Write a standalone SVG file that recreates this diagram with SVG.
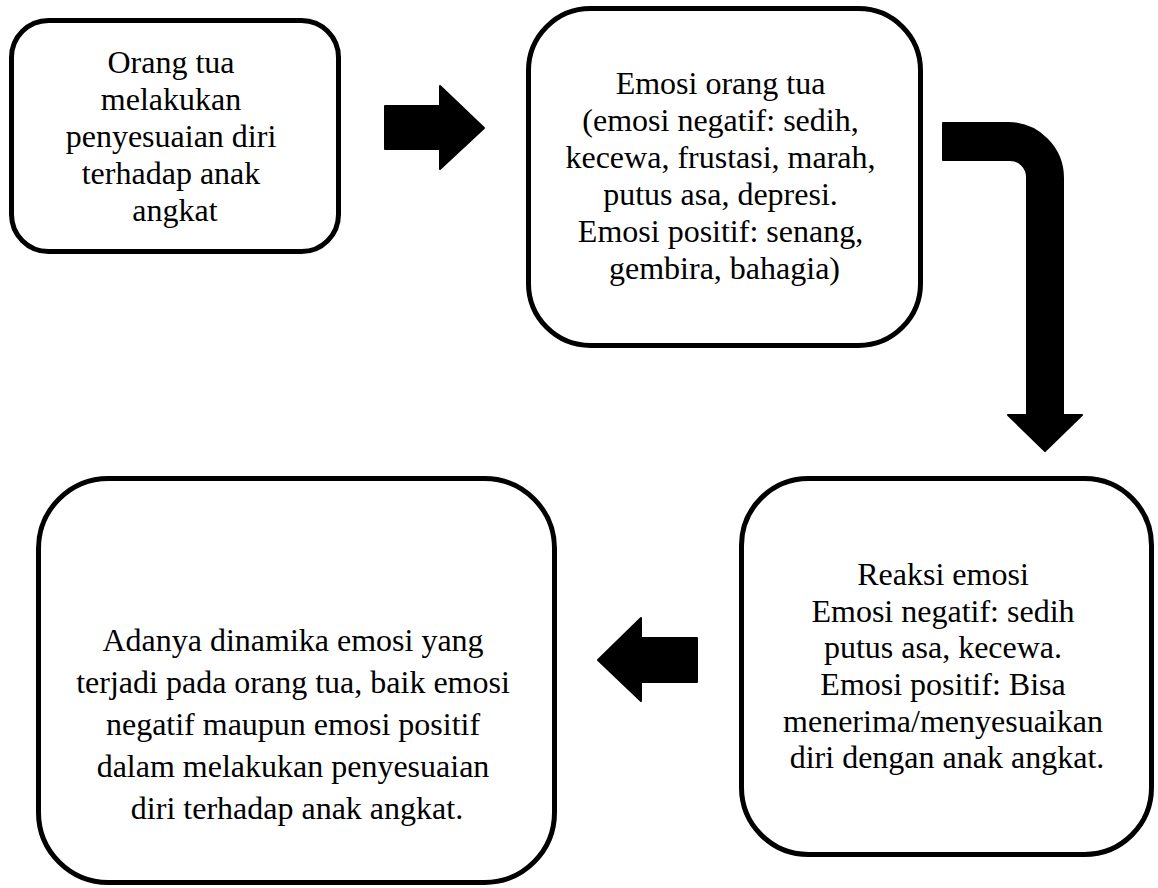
<svg xmlns="http://www.w3.org/2000/svg" width="1158" height="888" viewBox="0 0 1158 888">
  <style>
    .box { fill: #ffffff; stroke: #000000; stroke-width: 5; }
    .arrow { fill: #000000; stroke: #000000; stroke-width: 2; stroke-linejoin: round; }
    .label { font-family: "Liberation Serif", "Times New Roman", serif; font-size: 32px; fill: #000000; text-anchor: middle; }
  </style>
  <rect x="0" y="0" width="1158" height="888" fill="#ffffff"/>
  <g id="node-1">
    <rect class="box" x="11.5" y="20.5" width="327" height="231" rx="37" ry="37"/>
    <text class="label">
      <tspan x="175" y="73">Orang tua</tspan>
      <tspan x="175" y="110">melakukan</tspan>
      <tspan x="175" y="147">penyesuaian diri</tspan>
      <tspan x="175" y="184">terhadap anak</tspan>
      <tspan x="175" y="221">angkat</tspan>
    </text>
  </g>
  <g id="node-2">
    <rect class="box" x="528.5" y="8.5" width="392" height="337" rx="62" ry="62"/>
    <text class="label">
      <tspan x="724.5" y="94">Emosi orang tua</tspan>
      <tspan x="724.5" y="131">(emosi negatif: sedih,</tspan>
      <tspan x="724.5" y="168">kecewa, frustasi, marah,</tspan>
      <tspan x="724.5" y="205">putus asa, depresi.</tspan>
      <tspan x="724.5" y="242">Emosi positif: senang,</tspan>
      <tspan x="724.5" y="279">gembira, bahagia)</tspan>
    </text>
  </g>
  <g id="node-3">
    <rect class="box" x="741.5" y="478.5" width="410" height="376" rx="67" ry="67"/>
    <text class="label">
      <tspan x="947" y="585">Reaksi emosi</tspan>
      <tspan x="947" y="622">Emosi negatif: sedih</tspan>
      <tspan x="947" y="658">putus asa, kecewa.</tspan>
      <tspan x="947" y="695">Emosi positif: Bisa</tspan>
      <tspan x="947" y="732">menerima/menyesuaikan</tspan>
      <tspan x="947" y="768">diri dengan anak angkat.</tspan>
    </text>
  </g>
  <g id="node-4">
    <rect class="box" x="38.5" y="478.5" width="516" height="404" rx="70" ry="70"/>
    <text class="label">
      <tspan x="297" y="651">Adanya dinamika emosi yang</tspan>
      <tspan x="297" y="693">terjadi pada orang tua, baik emosi</tspan>
      <tspan x="297" y="735">negatif maupun emosi positif</tspan>
      <tspan x="297" y="777">dalam melakukan penyesuaian</tspan>
      <tspan x="297" y="819">diri terhadap anak angkat.</tspan>
    </text>
  </g>
  <g id="connectors">
    <path class="arrow" d="M 385 106 L 440 106 L 440 86 L 484 128 L 440 169 L 440 149 L 385 149 Z"/>
    <path class="arrow" d="M 943 123 L 1008 123 A 55 55 0 0 1 1063 178 L 1063 415 L 1082 415 L 1045 451 L 1008 415 L 1027 415 L 1027 177 A 17 17 0 0 0 1010 160 L 943 160 Z"/>
    <path class="arrow" d="M 598 660 L 641 618 L 641 638 L 697 638 L 697 682 L 641 682 L 641 701 Z"/>
  </g>
</svg>
